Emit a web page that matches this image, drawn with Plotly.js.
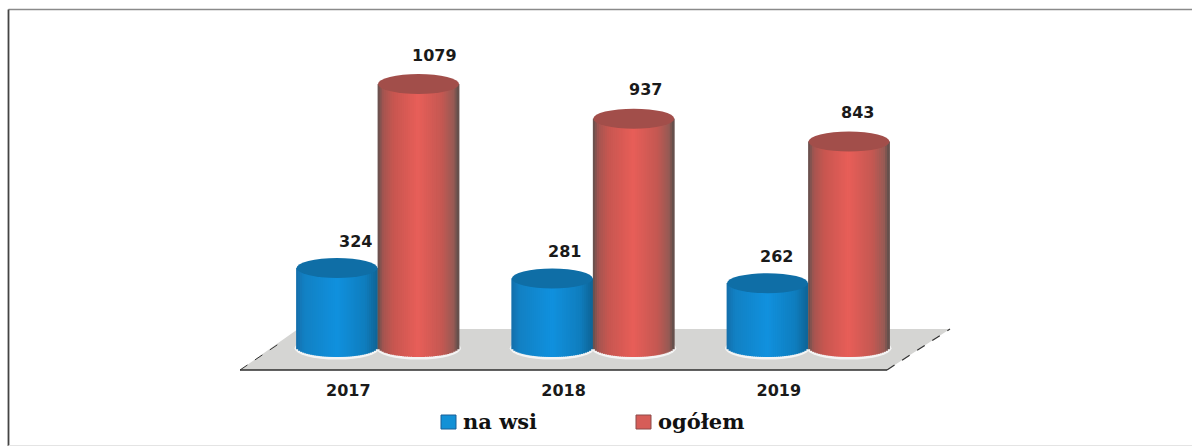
<!DOCTYPE html>
<html><head><meta charset="utf-8">
<script src="https://cdn.plot.ly/plotly-3.0.1.min.js"></script>
<style>html,body{margin:0;padding:0;background:#fff}#c{width:1192px;height:446px}</style>
</head><body><div id="c"></div>
<script>
const categories = ['2017','2018','2019'];
const naWsi = [324,281,262];
const ogolem = [1079,937,843];
const seriesNames = ['na wsi','ogółem'];

const W=1192,H=446,plotH=375,pxPerUnit=0.2437,baseY=347,x0px=378,stepPx=215.25;
const yTop=baseY/pxPerUnit, yBot=-(plotH-baseY)/pxPerUnit;
const barW=81/stepPx, offs=[-41/stepPx,40.5/stepPx];
const ell=10/pxPerUnit;
const N=40;
const px=v=>v/W, py=v=>1-v/plotH;
function mix(st,t){for(let i=1;i<st.length;i++){if(t<=st[i][0]){const a=st[i-1],b=st[i],k=(t-a[0])/(b[0]-a[0]);
  const c=[0,1,2].map(j=>Math.round(a[1][j]+(b[1][j]-a[1][j])*k));return `rgb(${c})`;}}const l=st[st.length-1][1];return `rgb(${l})`;}
const blueStops=[[0,[20,110,170]],[0.1,[18,128,195]],[0.5,[16,145,222]],[0.85,[15,125,190]],[1,[14,100,150]]];
const redStops=[[0,[95,80,78]],[0.07,[165,85,80]],[0.2,[200,86,80]],[0.5,[232,94,88]],[0.8,[195,88,82]],[0.94,[150,90,84]],[1,[90,78,74]]];
const seriesAll=[naWsi,ogolem], stopsAll=[blueStops,redStops], capCol=['#0f6ea6','#a24e4a'], swatch=['#1391d6','#d65d58'], swLine=['#1a5f96','#8c4a48'];
const traces=[];
seriesAll.forEach((vals,s)=>{
  for(let k=0;k<N;k++){
    const t=(k+0.5)/N, u=2*t-1, d=ell*Math.sqrt(1-u*u);
    traces.push({type:'bar',showlegend:false,hoverinfo:'skip',name:seriesNames[s],
      x:vals.map((_,i)=>i+offs[s]+u*barW/2),
      y:vals.map(v=>v+d),base:vals.map(()=>-d),
      width:barW/N*1.4,marker:{color:mix(stopsAll[s],t),line:{width:0}}});
  }
});

const shapes=[
 {type:'path',xref:'paper',yref:'paper',layer:'below',path:`M ${px(240)} ${py(370)} L ${px(887)} ${py(370)} L ${px(950)} ${py(329)} L ${px(298)} ${py(329)} Z`,fillcolor:'#d5d5d3',line:{width:0}},
 {type:'line',xref:'paper',yref:'paper',layer:'below',x0:px(240),y0:py(370),x1:px(887),y1:py(370),line:{color:'#2c2c2c',width:1.5}},
 {type:'line',xref:'paper',yref:'paper',layer:'below',x0:px(240),y0:py(370),x1:px(283),y1:py(341),line:{color:'#333',width:1,dash:'dash'}},
 {type:'line',xref:'paper',yref:'paper',layer:'below',x0:px(887),y0:py(370),x1:px(950),y1:py(329),line:{color:'#333',width:1.2,dash:'dash'}},
 {type:'line',xref:'paper',yref:'paper',layer:'below',x0:px(8.5),y0:py(9.5),x1:px(W),y1:py(9.5),line:{color:'#8a8a8a',width:1.5}},
 {type:'line',xref:'paper',yref:'paper',layer:'below',x0:px(8.5),y0:py(9.5),x1:px(8.5),y1:py(H),line:{color:'#444',width:1.8}},
 {type:'line',xref:'paper',yref:'paper',layer:'below',x0:px(8.5),y0:py(445.5),x1:px(W),y1:py(445.5),line:{color:'#e4e4e4',width:1}}
];
seriesAll.forEach((vals,s)=>vals.forEach((v,i)=>{
  const c=i+offs[s];
  shapes.push({type:'circle',xref:'x',yref:'y',layer:'below',x0:c-barW/2-2/stepPx,x1:c+barW/2+2/stepPx,y0:-ell-2.5/pxPerUnit,y1:ell,fillcolor:'#f4f4f4',line:{width:0}});
}));
seriesAll.forEach((vals,s)=>vals.forEach((v,i)=>{
  const c=i+offs[s];
  shapes.push({type:'circle',xref:'x',yref:'y',layer:'above',x0:c-barW/2,x1:c+barW/2,y0:v-ell,y1:v+ell,fillcolor:capCol[s],line:{width:0}});
}));

const labelFont={family:'DejaVu Sans',size:16,color:'#1a1a1a',weight:'bold'};
const labelShift=[[18,12,9],[16,12,8]];
const annotations=[];
seriesAll.forEach((vals,s)=>vals.forEach((v,i)=>annotations.push({
  x:i+offs[s],y:v,text:String(v),showarrow:false,xshift:labelShift[s][i],yshift:s?29:27,font:labelFont
})));

// legend: square swatch plus serif label
const legendSwatchX=[441,636], legendTextX=[461,656];
seriesNames.forEach((n,s)=>{
  shapes.push({type:'rect',xref:'paper',yref:'paper',layer:'above',x0:px(legendSwatchX[s]),x1:px(legendSwatchX[s]+15),y0:py(415),y1:py(429),fillcolor:swatch[s],line:{color:swLine[s],width:1}});
  annotations.push({xref:'paper',yref:'paper',x:px(legendTextX[s]),y:py(421),xanchor:'left',yanchor:'middle',text:n,showarrow:false,
    font:{family:'DejaVu Serif',size:21,color:'#111',weight:'bold'}});
});

Plotly.newPlot('c',traces,{
  width:W,height:H,margin:{l:0,r:0,t:0,b:H-plotH,pad:0},
  paper_bgcolor:'#fff',plot_bgcolor:'rgba(0,0,0,0)',barmode:'overlay',showlegend:false,
  xaxis:{range:[-x0px/stepPx,(W-x0px)/stepPx],tickmode:'array',tickvals:categories.map((_,i)=>i-0.138),ticktext:categories,
    showgrid:false,zeroline:false,showline:false,ticklen:0,ticklabelstandoff:4,tickangle:0,tickfont:labelFont},
  yaxis:{range:[yBot,yTop],visible:false},
  shapes,annotations
},{displayModeBar:false,staticPlot:true});
</script></body></html>
